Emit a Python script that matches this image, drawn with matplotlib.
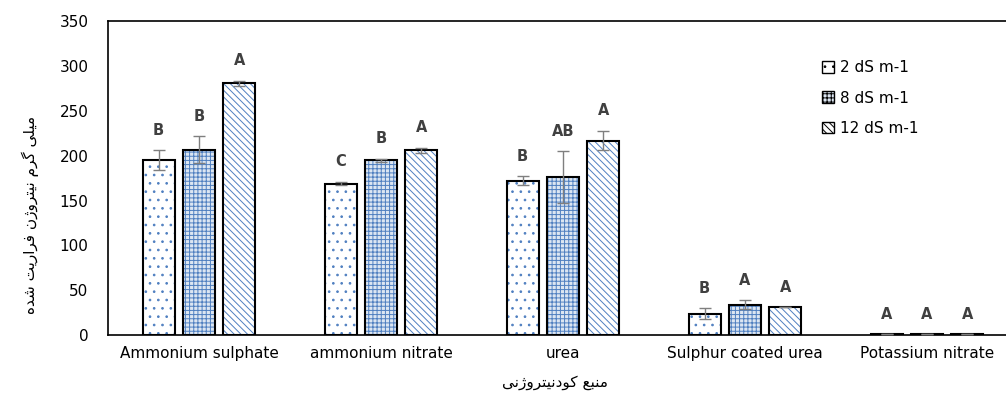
import numpy as np
import matplotlib.pyplot as plt

# Persian shaping by hand: matplotlib has no bidi / joining support
FORMS = {
    'ا': ('\uFE8D', '\uFE8E', None, None),
    'ب': ('\uFE8F', '\uFE90', '\uFE91', '\uFE92'),
    'ت': ('\uFE95', '\uFE96', '\uFE97', '\uFE98'),
    'د': ('\uFEA9', '\uFEAA', None, None),
    'ر': ('\uFEAD', '\uFEAE', None, None),
    'ز': ('\uFEAF', '\uFEB0', None, None),
    'ژ': ('\uFB8A', '\uFB8B', None, None),
    'ش': ('\uFEB5', '\uFEB6', '\uFEB7', '\uFEB8'),
    'ع': ('\uFEC9', '\uFECA', '\uFECB', '\uFECC'),
    'ف': ('\uFED1', '\uFED2', '\uFED3', '\uFED4'),
    'ک': ('\uFB8E', '\uFB8F', '\uFB90', '\uFB91'),
    'گ': ('\uFB92', '\uFB93', '\uFB94', '\uFB95'),
    'ل': ('\uFEDD', '\uFEDE', '\uFEDF', '\uFEE0'),
    'م': ('\uFEE1', '\uFEE2', '\uFEE3', '\uFEE4'),
    'ن': ('\uFEE5', '\uFEE6', '\uFEE7', '\uFEE8'),
    'ه': ('\uFEE9', '\uFEEA', '\uFEEB', '\uFEEC'),
    'و': ('\uFEED', '\uFEEE', None, None),
    'ی': ('\uFBFC', '\uFBFD', '\uFBFE', '\uFBFF'),
}


def shape(text):
    out = []
    for k, ch in enumerate(text):
        if ch not in FORMS:
            out.append(ch)
            continue
        prev = text[k - 1] if k > 0 else ' '
        nxt = text[k + 1] if k + 1 < len(text) else ' '
        join_prev = prev in FORMS and FORMS[prev][2] is not None
        join_next = nxt in FORMS and FORMS[ch][2] is not None
        iso, fin, ini, med = FORMS[ch]
        if join_prev and join_next:
            out.append(med)
        elif join_prev:
            out.append(fin)
        elif join_next:
            out.append(ini)
        else:
            out.append(iso)
    return ''.join(out)[::-1]


categories = ['Ammonium sulphate', 'ammonium nitrate', 'urea',
              'Sulphur coated urea', 'Potassium nitrate']
series = ['2 dS m-1', '8 dS m-1', '12 dS m-1']

v2 = [195, 169, 172, 24, 1]
v8 = [207, 195, 176, 34, 1]
v12 = [281, 206, 217, 31, 1]
e2 = [11, 2, 5, 6, 0]
e8 = [15, 2, 29, 5, 0]
e12 = [3, 3, 11, 0, 0]
l2 = ['B', 'C', 'B', 'B', 'A']
l8 = ['B', 'B', 'AB', 'A', 'A']
l12 = ['A', 'A', 'A', 'A', 'A']

values = [v2, v8, v12]
errors = [e2, e8, e12]
letters = [l2, l8, l12]
hatches = ['..', '++++', '\\\\\\\\\\']
faces = ['white', '#dce6f2', 'white']
blue = '#4f7fc0'

plt.rcParams['font.family'] = ['DejaVu Sans']
plt.rcParams['hatch.linewidth'] = 0.7
fig = plt.figure(figsize=(10.06, 4.08), dpi=100)
ax = fig.add_axes([108 / 1006, 1 - 335 / 408, 910 / 1006, 313.5 / 408])

x = np.arange(len(categories))
w = 0.176
step = 0.222

for j in range(3):
    pos = x + (j - 1) * step
    ax.bar(pos, values[j], w, color=faces[j], edgecolor=blue,
           hatch=hatches[j], linewidth=0, zorder=2)
    ax.bar(pos, values[j], w, fill=False, edgecolor='black',
           linewidth=1.5, zorder=3)
    ax.errorbar(pos, values[j], yerr=errors[j], fmt='none',
                ecolor='#7f7f7f', elinewidth=1, capsize=4, zorder=4)
    for p, v, e, t in zip(pos, values[j], errors[j], letters[j]):
        ax.annotate(t, (p, v + e), xytext=(0, 9), textcoords='offset points',
                    ha='center', va='bottom', fontsize=10.5,
                    fontweight='bold', color='#404040')

leg_handles = []
for j in range(3):
    leg_handles.append(plt.Rectangle((0, 0), 1, 1, facecolor=faces[j],
                                     edgecolor='black', hatch=hatches[j]))
ax.legend(leg_handles, series, loc='upper left',
          bbox_to_anchor=(700 / 910, 1 - 25 / 313.5), frameon=False,
          fontsize=11, handlelength=0.8, handleheight=0.8,
          handletextpad=0.4, labelspacing=1.0)

ax.set_xlim(-0.5, 4.5)
ax.set_ylim(0, 350)
ax.set_yticks(range(0, 351, 50))
ax.set_xticks(x)
ax.set_xticklabels(categories, fontsize=11)
ax.tick_params(axis='y', labelsize=11, length=0, pad=14)
ax.tick_params(axis='x', length=0, pad=8)
for s in ax.spines.values():
    s.set_linewidth(1.2)

fig.text(555 / 1006, 1 - 383 / 408, shape('منبع کودنیتروژنی'),
         ha='center', va='center', fontsize=11)
fig.text(30 / 1006, 1 - 215 / 408, shape('میلی گرم نیتروژن فراریت شده'),
         ha='center', va='center', rotation=90, fontsize=11)

fig.savefig('out.png', dpi=100)
